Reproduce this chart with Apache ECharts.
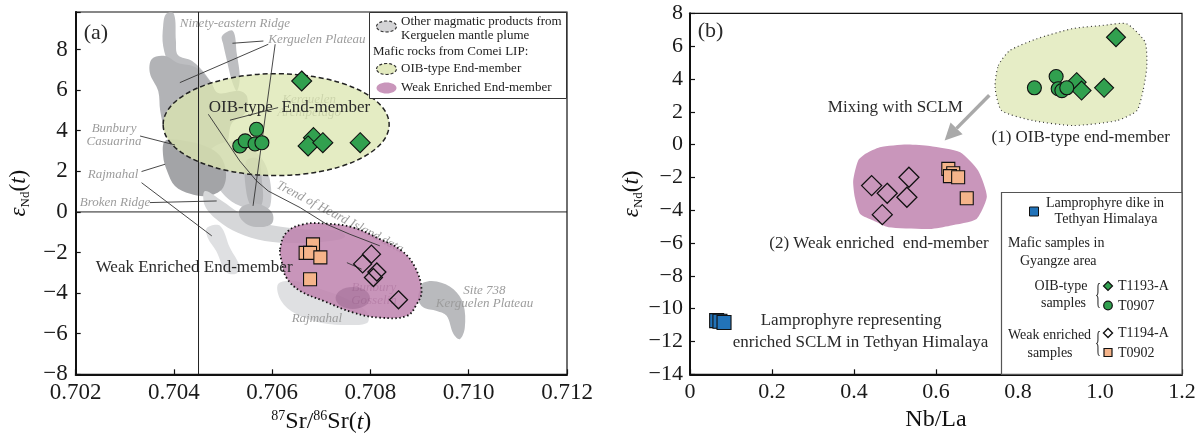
<!DOCTYPE html>
<html>
<head>
<meta charset="utf-8">
<script src="https://cdn.jsdelivr.net/npm/echarts@6/dist/echarts.min.js"></script>
<style>
  html, body { margin: 0; padding: 0; background: #fff; }
  #chart { width: 1200px; height: 436px; }
</style>
</head>
<body>
<div id="chart"></div>
<script>
const SERIF = '"Liberation Serif", "DejaVu Serif", serif';

// ---------- Panel (a): eNd(t) vs 87Sr/86Sr(t) ----------
const srT1193A = [[0.70660, 6.45], [0.70684, 3.66], [0.70673, 3.25], [0.70703, 3.41], [0.70779, 3.41]];
const srT0907  = [[0.70534, 3.25], [0.70545, 3.50], [0.70565, 3.35], [0.70568, 4.07], [0.70579, 3.41]];
const srT1194A = [[0.70802, -2.08], [0.70784, -2.56], [0.70813, -2.96], [0.70806, -3.23], [0.70857, -4.33]];
const srT0902  = [[0.70683, -1.60], [0.70668, -2.02], [0.70677, -2.02], [0.70698, -2.24], [0.70677, -3.32]];

// Kerguelen plume fields (data coordinates: Sr ratio, eNd)
const ninetyEastRidge = [[0.70384, 9.75], [0.70400, 9.75], [0.70404, 8.42], [0.70408, 7.73], [0.70437, 7.44], [0.70465, 6.75],
  [0.70482, 5.96], [0.70463, 5.67], [0.70437, 6.06], [0.70412, 6.55], [0.70392, 7.14], [0.70378, 8.18], [0.70378, 9.16]];
const kerguelenArchipelago = [[0.70355, 7.54], [0.70382, 7.68], [0.70408, 7.34], [0.70443, 7.14], [0.70473, 6.45], [0.70490, 5.86],
  [0.70534, 5.96], [0.70549, 5.67], [0.70545, 4.88], [0.70518, 4.38], [0.70510, 3.50], [0.70498, 2.51], [0.70473, 2.27],
  [0.70433, 2.51], [0.70402, 3.10], [0.70382, 3.99], [0.70372, 4.98], [0.70368, 5.96], [0.70351, 6.85]];
const bunburyCasuarina = [[0.70382, 3.50], [0.70422, 3.50], [0.70463, 3.25], [0.70494, 2.76], [0.70506, 1.92], [0.70498, 1.13],
  [0.70469, 0.79], [0.70433, 0.89], [0.70402, 1.28], [0.70386, 2.02], [0.70378, 2.76]];
const kerguelenPlateauSouth = [[0.70473, 3.00], [0.70524, 3.50], [0.70565, 3.00], [0.70591, 2.02], [0.70596, 0.30],
  [0.70571, 0.05], [0.70534, 0.30], [0.70504, 0.79], [0.70484, 1.53]];
const kerguelenPlateauStrip = [[0.70547, 2.51], [0.70571, 2.61], [0.70579, 1.53], [0.70579, 0.39], [0.70559, 0.25], [0.70547, 1.03]];
const kerguelenPlateauNorth = [[0.70498, 8.67], [0.70520, 8.92], [0.70528, 7.78], [0.70534, 6.60], [0.70528, 5.96],
  [0.70518, 6.45], [0.70508, 7.44], [0.70500, 8.28]];
const brokenRidge = [[0.70463, 1.03], [0.70498, 0.54], [0.70534, -0.05], [0.70579, -0.54], [0.70657, -0.84], [0.70738, -0.94],
  [0.70748, -1.23], [0.70718, -1.43], [0.70648, -1.53], [0.70585, -1.43], [0.70530, -1.03], [0.70490, -0.44], [0.70463, 0.30]];
const brokenRidgeCore = [[0.70534, 0.15], [0.70551, 0.39], [0.70579, 0.34], [0.70600, -0.05], [0.70600, -0.54],
  [0.70579, -0.74], [0.70551, -0.64], [0.70534, -0.25]];
const rajmahalUpper = [[0.70467, -0.79], [0.70494, -0.69], [0.70514, -1.77], [0.70534, -2.71], [0.70526, -3.05],
  [0.70506, -2.96], [0.70486, -1.92], [0.70469, -1.28]];
const rajmahalLower = [[0.70612, -3.55], [0.70646, -3.40], [0.70697, -3.79], [0.70748, -4.24], [0.70791, -4.88],
  [0.70795, -5.42], [0.70769, -5.57], [0.70701, -5.47], [0.70648, -5.02], [0.70618, -4.38]];
const site738 = [[0.70908, -3.48], [0.70935, -3.43], [0.70969, -3.81], [0.70989, -4.55], [0.70992, -5.70], [0.70982, -6.27],
  [0.70969, -6.02], [0.70955, -5.12], [0.70935, -4.88], [0.70908, -4.71], [0.70897, -4.30], [0.70901, -3.81]];

// Comei LIP end-member fields
const oibFieldCenter = [0.70608, 4.30];
const oibFieldRadius = [0.0023, 2.51];
const weakEnrichedFieldA = [[0.70616, -1.84], [0.70629, -1.02], [0.70663, -0.61], [0.70711, -0.58], [0.70765, -0.77],
  [0.70819, -1.34], [0.70864, -1.92], [0.70891, -2.74], [0.70904, -3.89], [0.70894, -4.55], [0.70874, -5.12],
  [0.70819, -5.21], [0.70765, -4.96], [0.70704, -4.38], [0.70657, -3.89], [0.70629, -3.24], [0.70619, -2.41]];
const gosselinCenter = [0.70764, -4.24];
const gosselinRadius = [0.00035, 0.54];

// Reference lines and leaders
const bulkEarthSr = [[0.7045, -8], [0.7045, 9.85]];
const churNd = [[0.702, 0], [0.712, 0]];
const leaderLines = [
  [[0.70519, 8.31], [0.70582, 8.42]],
  [[0.70412, 6.37], [0.70592, 8.26]],
  [[0.70606, 8.26], [0.70561, 0.30]],
  [[0.70514, 4.52], [0.70612, 5.14]],
  [[0.70331, 3.74], [0.70402, 3.30]],
  [[0.70334, 1.99], [0.70382, 2.35]],
  [[0.70334, 1.44], [0.70477, -1.18]],
  [[0.70351, 0.46], [0.70487, 0.54]],
  [[0.70470, 4.81], [0.70534, 2.51], [0.70568, 1.53], [0.70592, 1.03], [0.70657, 0.21], [0.70711, -0.61], [0.70758, -1.10], [0.70819, -1.67]],
  [[0.70752, -2.50], [0.70782, -2.82]]
];

// Field names
const fieldNamesA = ['Ninety-eastern Ridge', 'Kerguelen Plateau', 'Bunbury\nCasuarina', 'Rajmahal', 'Broken Ridge',
  'Site 738\nKerguelen Plateau', 'Rajmahal'];
const fieldNamesAPos = [[0.70524, 9.26], [0.70691, 8.47], [0.70278, 3.80], [0.70276, 1.82], [0.70280, 0.46],
  [0.71032, -4.18], [0.70691, -5.24]];
const coveredNamesA = ['Kerguelen\nArchipelago', 'Bunbury\nGosselin', 'Trend of Heard Island data'];
const coveredNamesAPos = [[0.70675, 5.20], [0.70807, -4.03], [0.70738, -0.26]];
const titlesA = ['(a)', 'OIB-type  End-member', 'Weak Enriched End-member'];
const titlesAPos = [[0.70241, 8.82], [0.70635, 5.14], [0.70441, -2.74]];

// ---------- Panel (b): eNd(t) vs Nb/La ----------
const nbT1193A = [[1.039, 6.54], [0.943, 3.80], [0.955, 3.29], [1.010, 3.46]];
const nbT0907  = [[0.840, 3.46], [0.893, 4.15], [0.898, 3.40], [0.907, 3.29], [0.919, 3.46]];
const nbT1194A = [[0.443, -2.50], [0.481, -2.97], [0.534, -1.99], [0.529, -3.21], [0.469, -4.27]];
const nbT0902  = [[0.630, -1.48], [0.642, -1.75], [0.634, -1.92], [0.654, -1.99], [0.675, -3.27]];
const nbLamprophyre = [[0.065, -10.73], [0.073, -10.77], [0.083, -10.84]];

const oibFieldB = [[0.752, 4.82], [0.780, 5.73], [0.846, 6.45], [0.934, 7.07], [1.007, 7.26], [1.065, 7.36], [1.110, 6.24],
  [1.114, 4.71], [1.105, 3.29], [1.090, 2.07], [1.041, 1.46], [0.935, 1.16], [0.837, 1.46], [0.760, 2.07], [0.744, 3.49]];
const weakEnrichedFieldB = [[0.398, -2.20], [0.410, -0.98], [0.429, -0.55], [0.463, -0.16], [0.529, 0.00], [0.585, -0.09],
  [0.659, -0.47], [0.703, -1.59], [0.724, -3.17], [0.699, -4.53], [0.634, -4.94], [0.585, -5.14], [0.484, -5.04],
  [0.447, -4.63], [0.415, -4.23], [0.402, -3.21]];
const mixingArrow = [[0.730, 3.00], [0.621, 0.25]];

const titlesB = ['(b)', 'Mixing with SCLM', '(1) OIB-type end-member', '(2) Weak enriched  end-member',
  'Lamprophyre representing', 'enriched SCLM in Tethyan Himalaya'];
const titlesBPos = [[0.050, 6.92], [0.501, 2.27], [0.953, 0.45], [0.461, -6.05], [0.393, -10.70], [0.416, -12.05]];

// ---------- Colours ----------
const GREEN = '#31a04f';
const ORANGE = '#f5b48a';
const BLUE = '#2273b9';
const EDGE = '#111';

// ---------- Series helpers ----------
function polygonSeries(points, gi, style, smooth) {
  return {
    type: 'custom', xAxisIndex: gi, yAxisIndex: gi, silent: true, animation: false,
    data: [points[0]],
    renderItem: (params, api) => ({
      type: 'polygon',
      shape: { points: points.map(p => api.coord(p)), smooth: smooth == null ? 0.35 : smooth },
      style: style
    })
  };
}
function ellipseSeries(center, radius, gi, style) {
  return {
    type: 'custom', xAxisIndex: gi, yAxisIndex: gi, silent: true, animation: false,
    data: [center],
    renderItem: (params, api) => {
      const c = api.coord(center);
      const s = api.size(radius, center);
      return { type: 'ellipse', shape: { cx: c[0], cy: c[1], rx: s[0], ry: s[1] }, style: style };
    }
  };
}
function linesSeries(lines, gi, style) {
  return {
    type: 'custom', xAxisIndex: gi, yAxisIndex: gi, silent: true, animation: false,
    data: lines.map(l => l[0]),
    renderItem: (params, api) => ({
      type: 'polyline',
      shape: { points: lines[params.dataIndex].map(p => api.coord(p)) },
      style: Object.assign({ fill: null }, style)
    })
  };
}
function textSeries(texts, positions, gi, styleFor) {
  return {
    type: 'custom', xAxisIndex: gi, yAxisIndex: gi, silent: true, animation: false,
    data: positions,
    renderItem: (params, api) => {
      const i = params.dataIndex;
      const c = api.coord(positions[i]);
      const st = styleFor(i);
      return {
        type: 'text', x: c[0], y: c[1], rotation: st.rotation || 0,
        style: { text: texts[i], font: st.font, fill: st.fill, align: 'center', verticalAlign: 'middle', lineHeight: st.lineHeight || 14 }
      };
    }
  };
}
function scatterSeries(data, gi, symbol, size, color, borderWidth) {
  return {
    type: 'scatter', xAxisIndex: gi, yAxisIndex: gi, data: data, symbol: symbol, symbolSize: size,
    silent: true, animation: false, z: 5,
    itemStyle: { color: color, borderColor: EDGE, borderWidth: borderWidth || 1.1, opacity: 1 }
  };
}

const grayLight = '#d6d7d9';
const grayMid = '#bdbec1';
const grayDark = '#a3a4a7';
const annoGray = '#9c9c9c';

const series = [
  // Kerguelen plume fields
  polygonSeries(ninetyEastRidge, 0, { fill: grayMid }),
  polygonSeries(kerguelenArchipelago, 0, { fill: '#b2b3b6' }),
  polygonSeries(kerguelenPlateauNorth, 0, { fill: grayMid }),
  polygonSeries(kerguelenPlateauSouth, 0, { fill: '#cbcccf' }),
  polygonSeries(bunburyCasuarina, 0, { fill: grayDark }),
  polygonSeries(kerguelenPlateauStrip, 0, { fill: '#b4b5b8' }),
  polygonSeries(brokenRidge, 0, { fill: grayLight }),
  polygonSeries(brokenRidgeCore, 0, { fill: '#b9babd' }),
  polygonSeries(rajmahalUpper, 0, { fill: '#dfe0e2' }),
  polygonSeries(rajmahalLower, 0, { fill: '#dfe0e2' }),
  polygonSeries(site738, 0, { fill: '#b9babd' }),
  // labels that sit beneath the translucent fields
  textSeries(coveredNamesA, coveredNamesAPos, 0, i => ({
    font: 'italic 13px ' + SERIF,
    fill: i === 1 ? '#8a6f84' : annoGray,
    rotation: i === 2 ? -0.483 : 0,
    lineHeight: 13
  })),
  // OIB-type field
  ellipseSeries(oibFieldCenter, oibFieldRadius, 0, {
    fill: 'rgba(220,230,176,0.76)', stroke: '#222', lineWidth: 1.5, lineDash: [5, 3]
  }),
  // Weak enriched field
  polygonSeries(weakEnrichedFieldA, 0, {
    fill: 'rgba(191,131,175,0.86)', stroke: '#111', lineWidth: 1.8, lineDash: [1.5, 2.5]
  }, 0.4),
  ellipseSeries(gosselinCenter, gosselinRadius, 0, { fill: 'rgba(120,70,110,0.28)' }),
  // reference lines & leaders
  linesSeries([bulkEarthSr, churNd], 0, { stroke: '#222', lineWidth: 1 }),
  linesSeries(leaderLines, 0, { stroke: '#333', lineWidth: 0.9 }),
  textSeries(fieldNamesA, fieldNamesAPos, 0, () => ({ font: 'italic 13px ' + SERIF, fill: annoGray, lineHeight: 13 })),
  textSeries(titlesA, titlesAPos, 0, i => ({ font: (i === 0 ? '22px ' : '17px ') + SERIF, fill: '#2a2a2a' })),
  // samples (a)
  scatterSeries(srT1193A, 0, 'diamond', 20, GREEN, 1.1),
  scatterSeries(srT0907, 0, 'circle', 14, GREEN, 1.1),
  scatterSeries(srT0902, 0, 'rect', 13, ORANGE, 1.1),
  scatterSeries(srT1194A, 0, 'diamond', 18, 'rgba(0,0,0,0)', 1.3),

  // ---------- panel (b) ----------
  polygonSeries(oibFieldB, 1, { fill: '#e6edc6', stroke: '#333', lineWidth: 1.2, lineDash: [1, 3] }, 0.2),
  polygonSeries(weakEnrichedFieldB, 1, { fill: '#c996bb' }, 0.2),
  {
    type: 'custom', xAxisIndex: 1, yAxisIndex: 1, silent: true, animation: false,
    data: [mixingArrow[0]],
    renderItem: (params, api) => {
      const a = api.coord(mixingArrow[0]);
      const b = api.coord(mixingArrow[1]);
      const ang = Math.atan2(b[1] - a[1], b[0] - a[0]);
      const L = 17, W = 8.5;
      const base = [b[0] - L * Math.cos(ang), b[1] - L * Math.sin(ang)];
      const p1 = [base[0] + W * Math.sin(ang), base[1] - W * Math.cos(ang)];
      const p2 = [base[0] - W * Math.sin(ang), base[1] + W * Math.cos(ang)];
      return {
        type: 'group', children: [
          { type: 'line', shape: { x1: a[0], y1: a[1], x2: base[0], y2: base[1] }, style: { stroke: '#a9a9a9', lineWidth: 3.5 } },
          { type: 'polygon', shape: { points: [b, p1, p2] }, style: { fill: '#a9a9a9' } }
        ]
      };
    }
  },
  textSeries(titlesB, titlesBPos, 1, i => ({ font: (i === 0 ? '22px ' : '17px ') + SERIF, fill: '#2a2a2a' })),
  scatterSeries(nbT1193A, 1, 'diamond', 19, GREEN, 1.1),
  scatterSeries(nbT0907, 1, 'circle', 14, GREEN, 1.1),
  scatterSeries(nbT0902, 1, 'rect', 13, ORANGE, 1.1),
  scatterSeries(nbT1194A, 1, 'diamond', 20, 'rgba(0,0,0,0)', 1.3),
  scatterSeries(nbLamprophyre, 1, 'rect', 14, BLUE, 1.1)
];

// ---------- Axes ----------
const tickFont = { fontFamily: SERIF, color: '#1a1a1a' };
function evenInt(v) {
  if (Math.abs(v / 2 - Math.round(v / 2)) > 1e-6) return '';
  return String(Math.round(v)).replace('-', '\u2212');
}
const epsName = '{e|\u03b5}{s|Nd}{p|(}{e|t}{p|)}';
const epsRich = {
  e: { fontFamily: SERIF, fontSize: 23, fontStyle: 'italic', color: '#111', lineHeight: 26 },
  s: { fontFamily: SERIF, fontSize: 13, color: '#111', verticalAlign: 'bottom', lineHeight: 6 },
  p: { fontFamily: SERIF, fontSize: 23, color: '#111', lineHeight: 26 }
};
function baseAxis(gi) {
  return {
    type: 'value', gridIndex: gi, splitLine: { show: false },
    axisLine: { show: true, onZero: false, lineStyle: { color: '#111', width: 2 } },
    axisTick: { show: true, inside: true, length: 5, lineStyle: { color: '#111', width: 1.2 } },
    nameLocation: 'middle'
  };
}

const option = {
  backgroundColor: '#ffffff',
  animation: false,
  grid: [
    { left: 75.7, right: 633, top: 12, bottom: 61.7, show: true, borderColor: '#111', borderWidth: 1.2, containLabel: false, outerBoundsMode: 'none' },
    { left: 690, right: 18, top: 13.3, bottom: 61.7, show: true, borderColor: '#111', borderWidth: 1.2, containLabel: false, outerBoundsMode: 'none' }
  ],
  xAxis: [
    Object.assign(baseAxis(0), {
      min: 0.702, max: 0.712, interval: 0.002,
      axisLabel: Object.assign({ fontSize: 23, margin: 7, formatter: v => v.toFixed(3) }, tickFont),
      name: '{sup|87}{m|Sr/}{sup|86}{m|Sr(}{it|t}{m|)}', nameGap: 32,
      nameTextStyle: { rich: {
        m: { fontFamily: SERIF, fontSize: 24, color: '#111', lineHeight: 26 },
        it: { fontFamily: SERIF, fontSize: 24, fontStyle: 'italic', color: '#111', lineHeight: 26 },
        sup: { fontFamily: SERIF, fontSize: 14, color: '#111', verticalAlign: 'top', lineHeight: 8 }
      } }
    }),
    Object.assign(baseAxis(1), {
      min: 0, max: 1.2, interval: 0.2,
      axisLabel: Object.assign({ fontSize: 22, margin: 7, formatter: v => (Math.abs(v) < 1e-9 ? '0' : v.toFixed(1)) }, tickFont),
      name: 'Nb/La', nameGap: 32,
      nameTextStyle: { fontFamily: SERIF, fontSize: 24, color: '#111' }
    })
  ],
  yAxis: [
    Object.assign(baseAxis(0), {
      min: -8, max: 9.85, interval: 2,
      axisLabel: Object.assign({ fontSize: 23, margin: 8, formatter: evenInt }, tickFont),
      name: epsName, nameGap: 44, nameRotate: 90,
      nameTextStyle: { rich: epsRich }
    }),
    Object.assign(baseAxis(1), {
      min: -14, max: 8, interval: 2,
      axisLabel: Object.assign({ fontSize: 22, margin: 7, formatter: evenInt }, tickFont),
      name: epsName, nameGap: 35, nameRotate: 90,
      nameTextStyle: { rich: epsRich }
    })
  ],
  graphic: [
    // legend, panel (a)
    { type: 'rect', z: 50, shape: { x: 369.5, y: 12.5, width: 197, height: 86 }, style: { fill: '#fff', stroke: '#333', lineWidth: 1 } },
    { type: 'ellipse', z: 51, shape: { cx: 386.5, cy: 26.5, rx: 10, ry: 5.5 }, style: { fill: '#d4d4d6', stroke: '#333', lineWidth: 1.2, lineDash: [3, 2] } },
    { type: 'text', z: 51, x: 401, y: 21.5, style: { text: 'Other magmatic products from', font: '13px ' + SERIF, fill: '#222', align: 'left', verticalAlign: 'middle' } },
    { type: 'text', z: 51, x: 401, y: 36, style: { text: 'Kerguelen mantle plume', font: '13px ' + SERIF, fill: '#222', align: 'left', verticalAlign: 'middle' } },
    { type: 'text', z: 51, x: 373, y: 52, style: { text: 'Mafic rocks from Comei LIP:', font: '13px ' + SERIF, fill: '#222', align: 'left', verticalAlign: 'middle' } },
    { type: 'ellipse', z: 51, shape: { cx: 386.5, cy: 69, rx: 10, ry: 5.5 }, style: { fill: '#e3eabf', stroke: '#333', lineWidth: 1.2, lineDash: [3, 2] } },
    { type: 'text', z: 51, x: 401, y: 69, style: { text: 'OIB-type End-member', font: '13px ' + SERIF, fill: '#222', align: 'left', verticalAlign: 'middle' } },
    { type: 'ellipse', z: 51, shape: { cx: 386.5, cy: 88, rx: 10, ry: 5.5 }, style: { fill: '#c996bb' } },
    { type: 'text', z: 51, x: 401, y: 88, style: { text: 'Weak Enriched End-member', font: '13px ' + SERIF, fill: '#222', align: 'left', verticalAlign: 'middle' } },

    // legend, panel (b)
    { type: 'rect', z: 50, shape: { x: 1001.5, y: 192.5, width: 180.5, height: 181.8 }, style: { fill: '#fff', stroke: '#555', lineWidth: 1.2 } },
    { type: 'rect', z: 51, shape: { x: 1029.5, y: 207, width: 9, height: 9 }, style: { fill: BLUE, stroke: EDGE, lineWidth: 1 } },
    { type: 'text', z: 51, x: 1105, y: 203.5, style: { text: 'Lamprophyre dike in', font: '14px ' + SERIF, fill: '#222', align: 'center', verticalAlign: 'middle' } },
    { type: 'text', z: 51, x: 1106, y: 219.5, style: { text: 'Tethyan Himalaya', font: '14px ' + SERIF, fill: '#222', align: 'center', verticalAlign: 'middle' } },
    { type: 'text', z: 51, x: 1008, y: 243.5, style: { text: 'Mafic samples in', font: '14px ' + SERIF, fill: '#222', align: 'left', verticalAlign: 'middle' } },
    { type: 'text', z: 51, x: 1020, y: 261, style: { text: 'Gyangze area', font: '14px ' + SERIF, fill: '#222', align: 'left', verticalAlign: 'middle' } },
    { type: 'text', z: 51, x: 1061, y: 286, style: { text: 'OIB-type', font: '14px ' + SERIF, fill: '#222', align: 'center', verticalAlign: 'middle' } },
    { type: 'text', z: 51, x: 1063.5, y: 303.5, style: { text: 'samples', font: '14px ' + SERIF, fill: '#222', align: 'center', verticalAlign: 'middle' } },
    { type: 'text', z: 51, x: 1098, y: 295, scaleX: 0.45, style: { text: '{', font: '30px ' + SERIF, fill: '#333', align: 'center', verticalAlign: 'middle' } },
    { type: 'polygon', z: 51, shape: { points: [[1108, 281.5], [1112.5, 286], [1108, 290.5], [1103.5, 286]] }, style: { fill: GREEN, stroke: EDGE, lineWidth: 1.2 } },
    { type: 'text', z: 51, x: 1118, y: 286, style: { text: 'T1193-A', font: '14px ' + SERIF, fill: '#222', align: 'left', verticalAlign: 'middle' } },
    { type: 'circle', z: 51, shape: { cx: 1108, cy: 305.5, r: 4.3 }, style: { fill: GREEN, stroke: EDGE, lineWidth: 1.2 } },
    { type: 'text', z: 51, x: 1118, y: 306, style: { text: 'T0907', font: '14px ' + SERIF, fill: '#222', align: 'left', verticalAlign: 'middle' } },
    { type: 'text', z: 51, x: 1049.5, y: 335.5, style: { text: 'Weak enriched', font: '14px ' + SERIF, fill: '#222', align: 'center', verticalAlign: 'middle' } },
    { type: 'text', z: 51, x: 1050, y: 353.5, style: { text: 'samples', font: '14px ' + SERIF, fill: '#222', align: 'center', verticalAlign: 'middle' } },
    { type: 'text', z: 51, x: 1098, y: 343, scaleX: 0.45, style: { text: '{', font: '30px ' + SERIF, fill: '#333', align: 'center', verticalAlign: 'middle' } },
    { type: 'polygon', z: 51, shape: { points: [[1108, 328.5], [1112.5, 333], [1108, 337.5], [1103.5, 333]] }, style: { fill: '#fff', stroke: EDGE, lineWidth: 1.4 } },
    { type: 'text', z: 51, x: 1118, y: 333, style: { text: 'T1194-A', font: '14px ' + SERIF, fill: '#222', align: 'left', verticalAlign: 'middle' } },
    { type: 'rect', z: 51, shape: { x: 1104, y: 348.5, width: 8, height: 8 }, style: { fill: ORANGE, stroke: EDGE, lineWidth: 1.2 } },
    { type: 'text', z: 51, x: 1118, y: 353, style: { text: 'T0902', font: '14px ' + SERIF, fill: '#222', align: 'left', verticalAlign: 'middle' } }
  ],
  series: series
};

const chart = echarts.init(document.getElementById('chart'), null, { renderer: 'canvas' });
chart.setOption(option);
</script>
</body>
</html>
